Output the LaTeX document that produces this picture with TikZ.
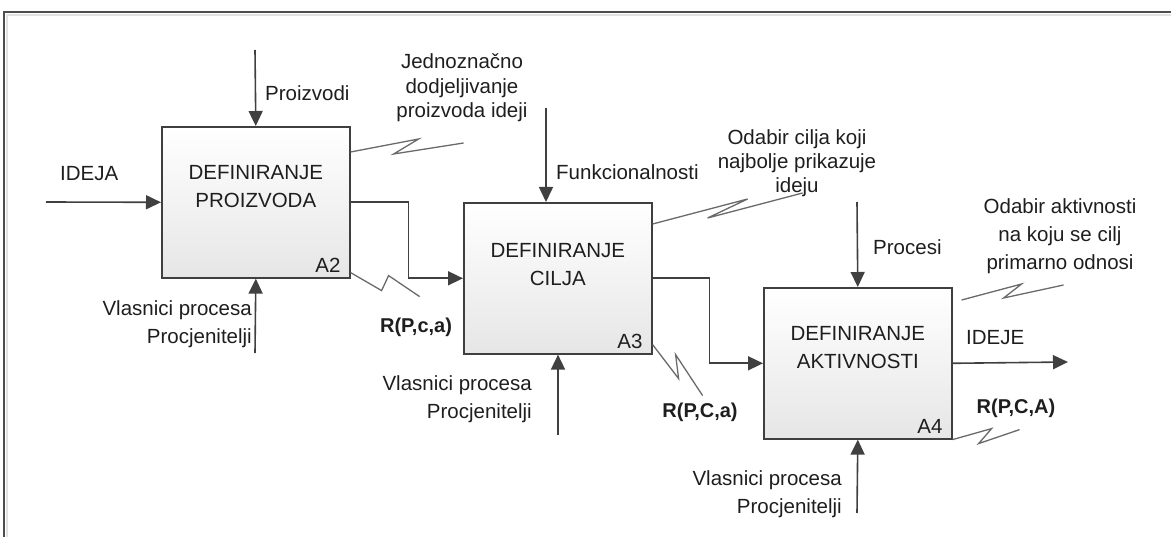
\documentclass[tikz,border=0pt]{standalone}
\usepackage{fontspec}
\setmainfont{Liberation Sans}
\usepackage{xcolor}
\definecolor{ink}{HTML}{3F3F3F}
\definecolor{wire}{HTML}{404040}
\definecolor{frameln}{HTML}{4D4D4D}
\definecolor{framelt}{HTML}{E2E2E2}
\definecolor{boxlo}{HTML}{E6E6E6}
\definecolor{squigln}{HTML}{6A6A6A}
\definecolor{txt}{HTML}{1E1E1E}
\usetikzlibrary{arrows.meta,positioning,calc}
\tikzset{
  >={Triangle[length=15pt,width=14pt]},
  func/.style   ={draw=ink,line width=1.6pt,top color=white,bottom color=boxlo,
                  minimum width=188pt,minimum height=151pt,inner sep=0pt},
  lbl/.style    ={font=\fontsize{20.5}{26}\selectfont,inner sep=1pt,align=center,text=txt},
  vlbl/.style   ={font=\fontsize{20.5}{28}\selectfont,inner sep=1pt,align=right,text=txt},
  rlbl/.style   ={font=\fontsize{20}{26}\selectfont\bfseries,inner sep=1pt,text=txt},
  flow/.style   ={->,draw=wire,line width=1.6pt},
  squig/.style  ={draw=squigln,line width=1.3pt},
}

\begin{document}
\begin{tikzpicture}[x=1pt,y=-1pt]
\useasboundingbox (0,0) rectangle (1171,537);
% frame
\draw[framelt,line width=2pt] (7,537) -- (7,15) -- (1171,15);
\draw[frameln,line width=1.6pt] (4,537) -- (4,12) -- (1171,12);

%================= activity boxes
\node[func,anchor=north west] (a2) at (161,126) {};
\node[func,anchor=north west] (a3) at (463,202) {};
\node[func,anchor=north west] (a4) at (763,287) {};
\node[lbl,font=\fontsize{20.5}{28}\selectfont] at ([yshift=16pt]a2.center) {DEFINIRANJE\\PROIZVODA};
\node[lbl,font=\fontsize{20.5}{28}\selectfont] at ([yshift=14pt]a3.center) {DEFINIRANJE\\CILJA};
\node[lbl,font=\fontsize{20.5}{28}\selectfont] at ([yshift=16pt]a4.center) {DEFINIRANJE\\AKTIVNOSTI};
\foreach \b/\nm in {a2/A2, a3/A3, a4/A4}
  \node[lbl,anchor=south east] at ([shift={(-9pt,5pt)}]\b.south east) {\nm};

%================= A2 : input, control, mechanism
\coordinate (in) at (46,202);
\coordinate (c2) at (255,50);
\coordinate (m2) at (255,353);
\draw[flow] (in) -- (a2.west);
\draw[flow] (c2) -- (a2.north);
\draw[flow] (m2) -- (a2.south);
\node[lbl,anchor=west] at (59,174) {IDEJA};
\node[lbl,anchor=west] at (264,93) {Proizvodi};
\node[vlbl,anchor=east] at (253,324) {Vlasnici procesa\\Procjenitelji};

%================= A3
\coordinate (c3) at (546,108);
\coordinate (m3) at (558,435);
\draw[flow] (a2.east) -- ++(58,0) |- (a3.west);
\draw[flow] (c3) -- (c3 |- a3.north);
\draw[flow] (m3) -- (m3 |- a3.south);
\node[lbl,anchor=west] at (555,172) {Funkcionalnosti};
\node[vlbl,anchor=east] at (533,399) {Vlasnici procesa\\Procjenitelji};

%================= A4
\coordinate (c4) at (857,202);
\coordinate (m4) at (857,513);
\coordinate (out) at (1068,362);
\draw[flow] (a3.east) -- ++(57,0) |- (a4.west);
\draw[flow] (c4) -- (a4.north);
\draw[flow] (m4) -- (a4.south);
\draw[flow] (a4.east) -- (out);
\node[lbl,anchor=west] at (872,247) {Procesi};
\node[lbl,anchor=west] at (965,338) {IDEJE};
\node[vlbl,anchor=east] at (843,494) {Vlasnici procesa\\Procjenitelji};

%================= notes (squiggles)
\draw[squig] ([yshift=-26pt]a2.north east) -- ++(68,-13) -- ++(-25,15) -- ++(70,-11);
\node[lbl,font=\fontsize{20.5}{24.5}\selectfont] at (462,88) {Jednoznačno\\dodjeljivanje\\proizvoda ideji};
\draw[squig] ([yshift=6pt]a2.south east) -- ++(31,18) -- ++(7,-15) -- ++(31,21);
\node[rlbl] at (416,327) {R(P,c,a)};

\draw[squig] ([yshift=-22pt]a3.north east) -- ++(95,-25) -- ++(-40,19) -- ++(95,-25);
\node[lbl,font=\fontsize{20.5}{24}\selectfont] at (797,163) {Odabir cilja koji\\najbolje prikazuje\\ideju};
\draw[squig] ([yshift=10pt]a3.south east) -- ++(26,34) -- ++(-3,-24) -- ++(27,41);
\node[rlbl] at (700,412) {R(P,C,a)};

\draw[squig] ([shift={(9pt,-13pt)}]a4.north east) -- ++(60,-16) -- ++(-18,14) -- ++(60,-13);
\node[lbl,font=\fontsize{20.5}{28}\selectfont] at (1060,236) {Odabir aktivnosti\\na koju se cilj\\primarno odnosi};
\draw[squig] (a4.south east) -- ++(39,-11) -- ++(-13,15) -- ++(41,-14);
\node[rlbl] at (1016,408) {R(P,C,A)};
\end{tikzpicture}
\end{document}
